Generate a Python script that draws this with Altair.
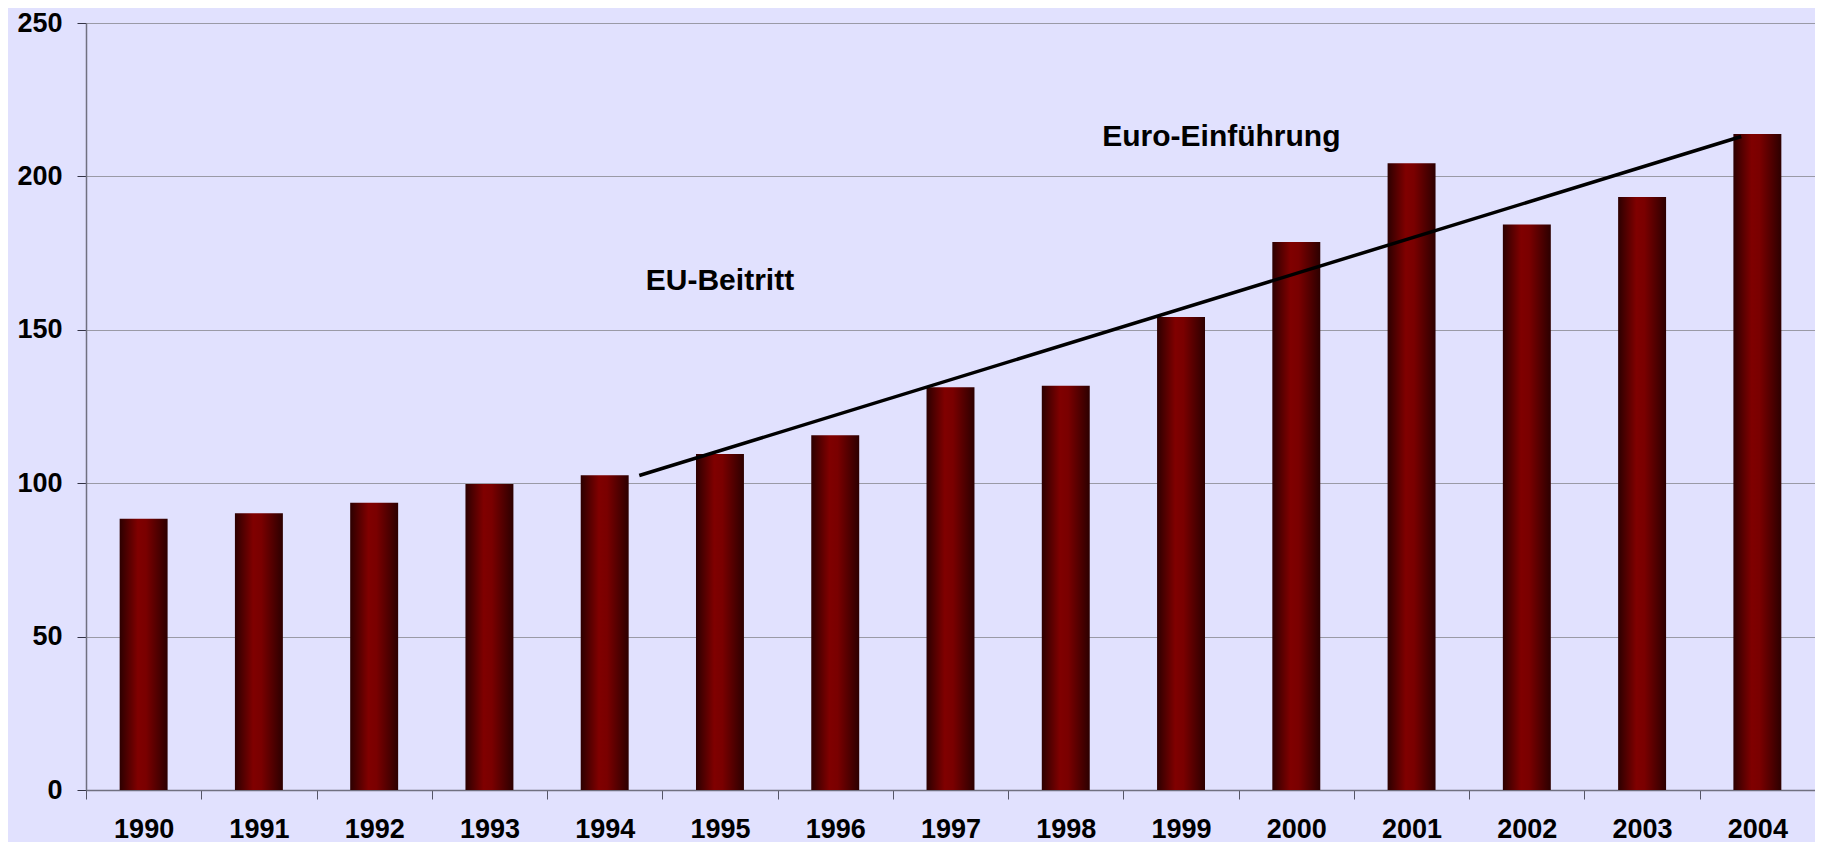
import altair as alt
import pandas as pd

years = [str(y) for y in range(1990, 2005)]
values = [88.4, 90.2, 93.6, 99.7, 102.6, 109.5, 115.6, 131.3, 131.8, 154.2, 178.6, 204.3, 184.3, 193.3, 213.8]
trend_x = [1994.30, 2003.86]
trend_y = [102.5, 213.0]
note_text = ["EU-Beitritt", "Euro-Einführung"]
note_x = [1995.0, 1999.35]
note_y = [166, 213]
y_ticks = [0, 50, 100, 150, 200, 250]

bars_df = pd.DataFrame({"Jahr": years, "Wert": values})
trend_df = pd.DataFrame({"x": trend_x, "y": trend_y})
note_df = pd.DataFrame({"x": note_x, "y": note_y, "t": note_text})

FONT = "Liberation Sans"
yscale = alt.Scale(domain=[0, 250])

gradient = {
    "gradient": "linear", "x1": 0, "x2": 1, "y1": 0, "y2": 0,
    "stops": [
        {"offset": 0, "color": "#2c0000"},
        {"offset": 0.38, "color": "#800000"},
        {"offset": 0.55, "color": "#7a0000"},
        {"offset": 1, "color": "#2c0000"},
    ],
}

bars = alt.Chart(bars_df).mark_bar(color=gradient, width=alt.RelativeBandSize(0.416)).encode(
    x=alt.X("Jahr:N", sort=years, title=None,
            scale=alt.Scale(paddingInner=0, paddingOuter=0),
            axis=alt.Axis(labelAngle=0, tickBand="extent", labelFontSize=27,
                          labelFontWeight="bold", labelFont=FONT, labelColor="black",
                          labelPadding=17, tickSize=9, tickColor="#555566",
                          domainColor="#707080", domainWidth=1.5, grid=False)),
    y=alt.Y("Wert:Q", scale=yscale, title=None,
            axis=alt.Axis(values=y_ticks, labelFontSize=27, labelFontWeight="bold",
                          labelFont=FONT, labelColor="black", labelPadding=15,
                          tickSize=9, tickColor="#333344", domainColor="#707080",
                          domainWidth=1.5, grid=True, gridColor="#9a9aa6",
                          gridWidth=1)),
)

xq = alt.Scale(domain=[1989.5, 2004.5], nice=False, zero=False)

trend = alt.Chart(trend_df).mark_line(color="black", strokeWidth=3.5).encode(
    x=alt.X("x:Q", scale=xq, axis=None),
    y=alt.Y("y:Q", scale=yscale),
)

notes = alt.Chart(note_df).mark_text(font=FONT, fontSize=30, fontWeight="bold",
                                    color="black", baseline="middle", align="center").encode(
    x=alt.X("x:Q", scale=xq, axis=None),
    y=alt.Y("y:Q", scale=yscale),
    text="t:N",
)

chart = alt.layer(bars, trend, notes).resolve_scale(x="independent").properties(
    width=1729, height=767,
    autosize=alt.AutoSizeParams(type="none"),
    padding={"left": 78, "top": 15, "right": 0, "bottom": 52},
    background="#E1E1FE",
).configure_view(stroke=None)

chart.save("out.html", embed_options={"renderer": "svg", "actions": False})
